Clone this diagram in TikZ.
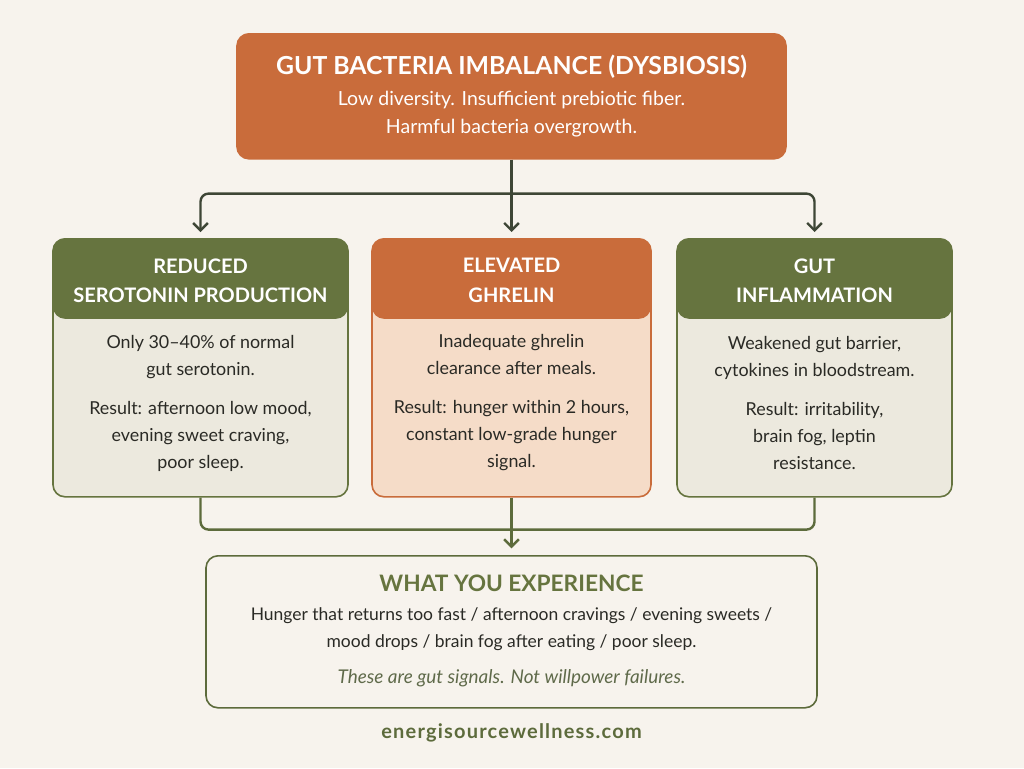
\documentclass[tikz,border=0pt]{standalone}
\usepackage{fontspec}
\setmainfont{Lato}
\newfontfamily\sitefont[LetterSpace=6]{Lato}
\usetikzlibrary{arrows.meta, positioning}

\definecolor{cream}{HTML}{F7F3ED}
\definecolor{rust}{HTML}{C96C3B}
\definecolor{olive}{HTML}{66743F}
\definecolor{oliveline}{HTML}{5D6B3C}
\definecolor{darkline}{HTML}{3E4636}
\definecolor{paleolive}{HTML}{ECE9DE}
\definecolor{palerust}{HTML}{F5DCC8}
\definecolor{inktext}{HTML}{2A2A25}
\definecolor{softtext}{HTML}{5F6A4A}

\begin{document}
\begin{tikzpicture}[
  x=0.75pt, y=-0.75pt,
  >={Straight Barb[length=5.5pt,width=11pt]},
  card/.style={draw, line width=1.2pt, rounded corners=9pt, anchor=north, inner sep=0pt},
  header/.style={path picture={\fill[#1] (path picture bounding box.north west)
      rectangle ([yshift=-60pt]path picture bounding box.north east);}},
  headtext/.style={align=center, text=white, font=\fontsize{15}{22}\selectfont\bfseries},
  bodytext/.style={align=center, text=inktext, font=\fontsize{13.4}{20.25}\selectfont},
  flow/.style={line width=1.8pt, rounded corners=6pt}
]
  % Background
  \fill[cream] (0,0) rectangle (1024,768);
  \useasboundingbox (0,0) rectangle (1024,768);

  % Cause
  \node (cause) [card, draw=rust, fill=rust, minimum width=411.75pt, minimum height=93.75pt] at (511.5,33) {};
  \node (causetitle) at (511.5,67) [text=white, font=\fontsize{18.6}{22}\selectfont\bfseries] {GUT BACTERIA IMBALANCE (DYSBIOSIS)};
  \node (causetext) at (511.5,114) [align=center, text=white, font=\fontsize{14.6}{21}\selectfont]
    {Low diversity. Insufficient prebiotic fiber.\\ Harmful bacteria overgrowth.};

  % Three effects
  \node (sero) [card, draw=olive, fill=paleolive, header=olive, minimum width=221.25pt, minimum height=193.5pt] at (200.5,238) {};
  \node (ghrelin) [card, draw=rust, fill=palerust, header=rust, minimum width=209.25pt, minimum height=193.5pt] at (511.5,238) {};
  \node (infl) [card, draw=olive, fill=paleolive, header=olive, minimum width=206.25pt, minimum height=193.5pt] at (814.5,238) {};

  \node (serotitle) at (200.5,280.5) [headtext] {REDUCED\\ SEROTONIN PRODUCTION};
  \node (ghrelintitle) at (511.5,280.5) [headtext] {ELEVATED\\ GHRELIN};
  \node (infltitle) at (814.5,280.5) [headtext] {GUT\\ INFLAMMATION};

  \node (serotext) at (200.5,403) [bodytext]
    {Only 30--40\% of normal\\ gut serotonin.\\[9pt] Result: afternoon low mood,\\ evening sweet craving,\\ poor sleep.};
  \node (ghrelintext) at (511.5,403) [bodytext]
    {Inadequate ghrelin\\ clearance after meals.\\[9pt] Result: hunger within 2 hours,\\ constant low-grade hunger\\ signal.};
  \node (infltext) at (814.5,403) [bodytext]
    {Weakened gut barrier,\\ cytokines in bloodstream.\\[9pt] Result: irritability,\\ brain fog, leptin\\ resistance.};

  % Outcome
  \node (result) [card, draw=oliveline, minimum width=458.25pt, minimum height=114pt] at (511.5,555) {};
  \node (resulttitle) at (511.5,583) [text=olive, font=\fontsize{17}{20}\selectfont\bfseries] {WHAT YOU EXPERIENCE};
  \node (resulttext) at (511.5,629.5) [bodytext, font=\fontsize{13.1}{20.25}\selectfont]
    {Hunger that returns too fast / afternoon cravings / evening sweets /\\ mood drops / brain fog after eating / poor sleep.};
  \node (resultnote) at (511.5,678) [text=softtext, font=\fontsize{14.2}{17}\selectfont\itshape]
    {These are gut signals. Not willpower failures.};

  \node (site) at (511.5,733) [text=oliveline, font=\fontsize{15}{18}\sitefont\bfseries] {energisourcewellness.com};

  % Connectors
  \coordinate [below=25.5pt of cause.south] (split);
  \coordinate [below=24pt of ghrelin.south] (merge);

  \draw [flow, darkline, ->, shorten >=4.5pt] (cause.south) -- (ghrelin.north);
  \draw [flow, darkline, ->, shorten >=4.5pt] (split) -| (sero.north);
  \draw [flow, darkline, ->, shorten >=4.5pt] (split) -| (infl.north);

  \draw [flow, oliveline] (sero.south) |- (merge) -| (infl.south);
  \draw [flow, oliveline, ->, shorten >=5pt] (ghrelin.south) -- (result.north);
\end{tikzpicture}
\end{document}
